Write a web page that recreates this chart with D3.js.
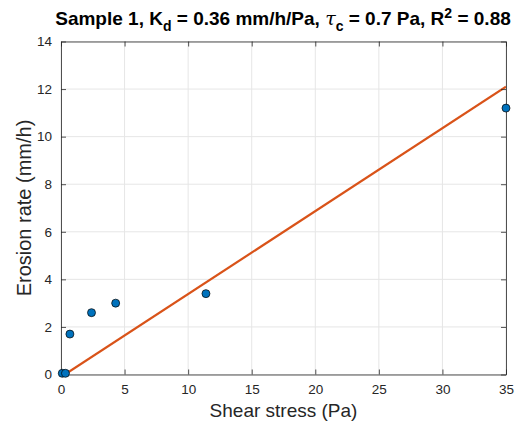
<!DOCTYPE html>
<html>
<head>
<meta charset="utf-8">
<script src="https://cdn.jsdelivr.net/npm/d3@7"></script>
<style>
  body { margin: 0; background: #fff; }
  svg { font-family: "Liberation Sans", Arial, sans-serif; }
</style>
</head>
<body>
<svg id="chart" width="528" height="427"></svg>
<script>
// measured points
const shearStress = [0.1, 0.35, 0.7, 2.4, 4.3, 11.4, 35];
const erosionRate = [0.05, 0.05, 1.7, 2.6, 3.0, 3.4, 11.2];
// fitted line endpoints
const fitX = [0.3, 35];
const fitY = [0, 12.1];
const xTicks = [0, 5, 10, 15, 20, 25, 30, 35];
const yTicks = [0, 2, 4, 6, 8, 10, 12, 14];

const margin = { left: 61, right: 22, top: 41.5, bottom: 52.5 };
const W = 528, H = 427;
const svg = d3.select("#chart");

const x = d3.scaleLinear().domain([0, 35]).range([margin.left, W - margin.right]);
const y = d3.scaleLinear().domain([0, 14]).range([H - margin.bottom, margin.top]);

const axisCol = "#262626";

// grid
svg.append("g").selectAll("line").data(xTicks).enter().append("line")
  .attr("x1", d => x(d)).attr("x2", d => x(d))
  .attr("y1", y(0)).attr("y2", y(14))
  .attr("stroke", "#e6e6e6").attr("stroke-width", 1);
svg.append("g").selectAll("line").data(yTicks).enter().append("line")
  .attr("x1", x(0)).attr("x2", x(35))
  .attr("y1", d => y(d)).attr("y2", d => y(d))
  .attr("stroke", "#e6e6e6").attr("stroke-width", 1);

// clip
svg.append("clipPath").attr("id", "clip").append("rect")
  .attr("x", x(0)).attr("y", y(14)).attr("width", x(35) - x(0)).attr("height", y(0) - y(14));

// fit line
svg.append("line")
  .attr("clip-path", "url(#clip)")
  .attr("x1", x(fitX[0])).attr("y1", y(fitY[0]))
  .attr("x2", x(fitX[1])).attr("y2", y(fitY[1]))
  .attr("stroke", "#D95319").attr("stroke-width", 2.2);

// axes
const xAxis = d3.axisBottom(x).tickValues(xTicks).tickSizeInner(-5).tickSizeOuter(0).tickPadding(10);
const yAxis = d3.axisLeft(y).tickValues(yTicks).tickSizeInner(-5).tickSizeOuter(0).tickPadding(9);
const xTop = d3.axisTop(x).tickValues(xTicks).tickSizeInner(-5).tickSizeOuter(0).tickFormat("");
const yRight = d3.axisRight(y).tickValues(yTicks).tickSizeInner(-5).tickSizeOuter(0).tickFormat("");

function styleAxis(g) {
  g.selectAll("path").attr("stroke", axisCol).attr("stroke-width", 0.8);
  g.selectAll("line").attr("stroke", axisCol).attr("stroke-width", 0.8);
  g.selectAll("text").attr("fill", axisCol).style("font-size", "13.5px").attr("font-family", "Liberation Sans, Arial, sans-serif");
}
svg.append("g").attr("transform", `translate(0,${y(0)})`).call(xAxis).call(styleAxis);
svg.append("g").attr("transform", `translate(${x(0)},0)`).call(yAxis).call(styleAxis);
svg.append("g").attr("transform", `translate(0,${y(14)})`).call(xTop).call(styleAxis);
svg.append("g").attr("transform", `translate(${x(35)},0)`).call(yRight).call(styleAxis);

// points
svg.append("g").selectAll("circle")
  .data(shearStress.map((v, i) => [v, erosionRate[i]]))
  .enter().append("circle")
  .attr("cx", d => x(d[0])).attr("cy", d => y(d[1]))
  .attr("r", 4)
  .attr("fill", "#0072BD").attr("stroke", "#000").attr("stroke-width", 0.7);

// labels
svg.append("text")
  .attr("x", (x(0) + x(35)) / 2).attr("y", 417)
  .attr("text-anchor", "middle").attr("fill", axisCol)
  .style("font-size", "19px").text("Shear stress (Pa)");

svg.append("text")
  .attr("transform", `translate(31,${(y(0) + y(14)) / 2}) rotate(-90)`)
  .attr("text-anchor", "middle").attr("fill", axisCol)
  .style("font-size", "20px").text("Erosion rate (mm/h)");

const title = svg.append("text")
  .attr("x", 283).attr("y", 25)
  .attr("text-anchor", "middle").attr("fill", "#000")
  .style("font-size", "19px").style("font-weight", "bold");
title.append("tspan").text("Sample 1, K");
title.append("tspan").attr("dy", 6).style("font-size", "14px").text("d");
title.append("tspan").attr("dy", -6).text(" = 0.36 mm/h/Pa, ");
title.append("tspan").style("font-style", "italic").style("font-weight", "normal").attr("font-family", "DejaVu Serif, serif").text("τ");
title.append("tspan").attr("dy", 6).style("font-size", "14px").text("c");
title.append("tspan").attr("dy", -6).text(" = 0.7 Pa, R");
title.append("tspan").attr("dy", -7).style("font-size", "14px").text("2");
title.append("tspan").attr("dy", 7).text(" = 0.88");
</script>
</body>
</html>
